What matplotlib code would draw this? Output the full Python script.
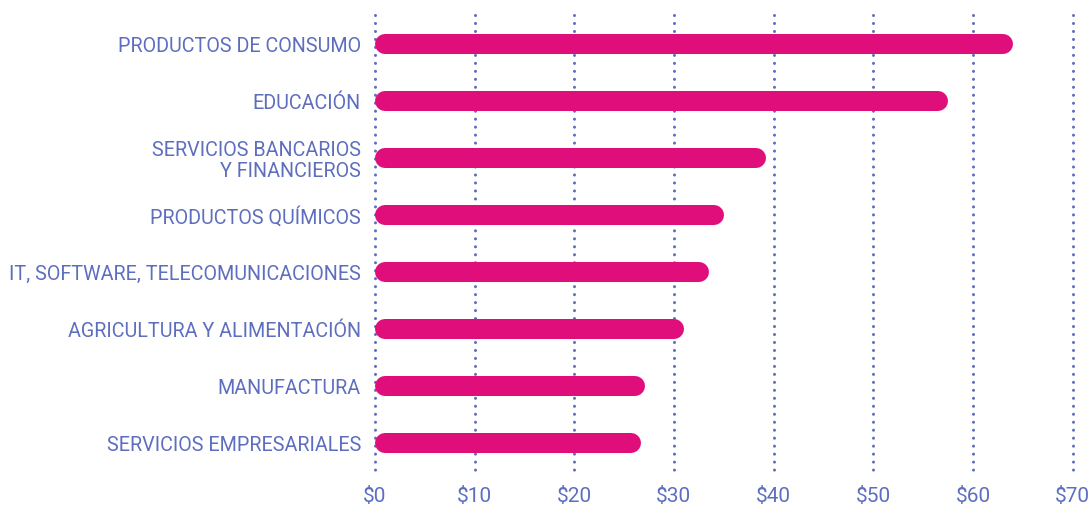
import numpy as np
import matplotlib
matplotlib.use("Agg")
import matplotlib.pyplot as plt

# data
categories = [
    "PRODUCTOS DE CONSUMO",
    "EDUCACIÓN",
    "SERVICIOS BANCARIOS\nY FINANCIEROS",
    "PRODUCTOS QUÍMICOS",
    "IT, SOFTWARE, TELECOMUNICACIONES",
    "AGRICULTURA Y ALIMENTACIÓN",
    "MANUFACTURA",
    "SERVICIOS EMPRESARIALES",
]
values = [64.0, 57.5, 39.2, 35.0, 33.5, 31.0, 27.1, 26.7]
xticks = [0, 10, 20, 30, 40, 50, 60, 70]
xticklabels = ["$0", "$10", "$20", "$30", "$40", "$50", "$60", "$70"]

BAR = "#E00E7B"
BLUE = "#5E6EBF"

plt.rcParams['font.family'] = ['Roboto', 'DejaVu Sans']

W, H, DPI = 1090, 510, 100
fig = plt.figure(figsize=(W / DPI, H / DPI), dpi=DPI)
ax_l, ax_r = 374.8 / W, 1072.7 / W
ax_t, ax_b = 1 - 16 / H, 1 - 472 / H
ax = fig.add_axes([ax_l, ax_b, ax_r - ax_l, ax_t - ax_b])

ax.set_xlim(0, 70)
ax.set_ylim(len(categories) - 0.5, -0.5)

# dotted vertical grid
for t in xticks:
    ax.plot([t, t], [-0.5, len(categories) - 0.5], color=BLUE, lw=2.2,
            linestyle=(0, (0.01, 2.6)), dash_capstyle='round', zorder=1,
            clip_on=False)

# rounded bars: thick lines with round caps, ends pulled in by the cap radius
bar_px = 20
px_per_unit = (ax_r - ax_l) * W / 70
r = (bar_px / 2) / px_per_unit
for i, v in enumerate(values):
    ax.plot([r, v - r], [i, i], color=BAR, lw=bar_px * 72 / DPI,
            solid_capstyle='round', zorder=3)

ax.set_yticks(range(len(categories)))
ax.set_yticklabels(categories, color=BLUE, fontsize=14.2, linespacing=1.12)
ax.set_xticks(xticks)
ax.set_xticklabels(xticklabels, color=BLUE, fontsize=15)
ax.tick_params(axis='y', length=0, pad=10)
ax.tick_params(axis='x', length=0, pad=11)

for s in ax.spines.values():
    s.set_visible(False)

fig.savefig("out.png", dpi=DPI)
